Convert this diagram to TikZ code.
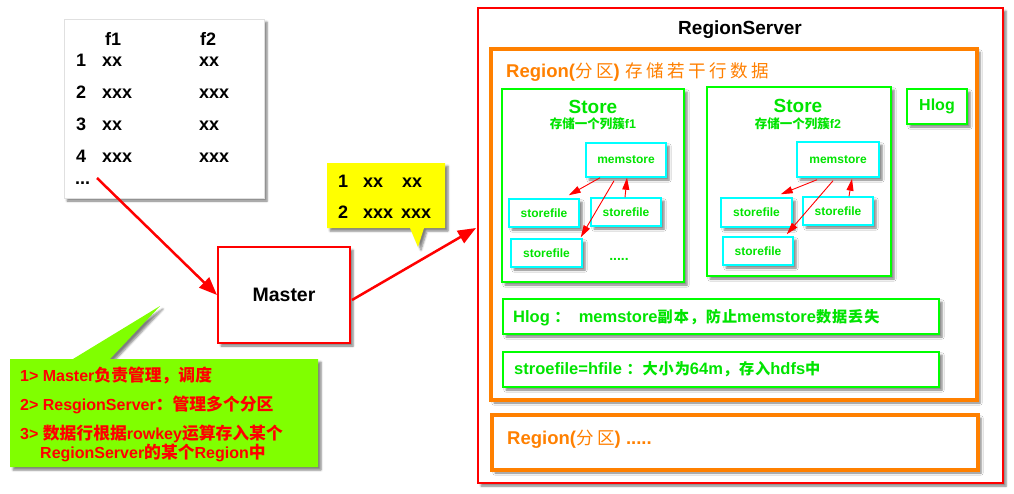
\documentclass[tikz,border=0pt]{standalone}
\usepackage{fontspec}
\setmainfont{Liberation Sans}
\newfontfamily\cjkcall{Noto Sans CJK SC}[Scale=1.05]
\newfontfamily\cjkdesc{Noto Sans CJK SC}[Scale=0.92,LetterSpace=6]
\newfontfamily\cjkwide{Noto Sans CJK SC}[Scale=0.95,LetterSpace=20]
\newfontfamily\cjknarrow{Noto Sans CJK SC}
\usetikzlibrary{arrows.meta,shadows.blur,calc}
\definecolor{rsred}{RGB}{255,0,0}
\definecolor{org}{RGB}{255,128,0}
\definecolor{grn}{RGB}{0,255,0}
\definecolor{gtxt}{RGB}{0,228,0}
\definecolor{cyn}{RGB}{0,255,255}
\definecolor{calloutgreen}{RGB}{128,255,0}
\definecolor{yel}{RGB}{255,255,0}
\newcommand{\zhc}[1]{{\cjkcall #1}}
\newcommand{\zhd}[1]{{\cjkdesc #1}}
\newcommand{\zhm}[1]{{\cjkwide\mdseries #1}}
\newcommand{\zhn}[1]{{\cjknarrow #1}}
\newcommand{\fs}[1]{\fontsize{#1}{#1}\selectfont}
\begin{document}
\begin{tikzpicture}[x=1pt,y=-1pt,font=\bfseries,
  shd/.style={blur shadow={shadow xshift=3pt,shadow yshift=-3pt,shadow blur steps=5,shadow opacity=50}},
  boxn/.style={rectangle,inner sep=0pt,fill=white,shd},
  txt/.style={inner sep=0pt,anchor=base west},
  ctxt/.style={inner sep=0pt,anchor=base},
  bigarrow/.style={draw=rsred,line width=2.5pt,-{Triangle[length=18pt,width=14pt]}},
  smallarrow/.style={draw=rsred,line width=0.9pt,-{Triangle[length=12pt,width=7pt]}},
  storebox/.style={boxn,draw=grn,line width=1.5pt},
  cyanbox/.style={boxn,draw=cyn,line width=1.5pt,text=gtxt,font=\bfseries\fs{12}},
  descbox/.style={boxn,draw=grn,line width=1.5pt},
  orgbox/.style={boxn,draw=org,line width=4pt},
  tabtxt/.style={txt,font=\bfseries\fs{18}},
  calltxt/.style={txt,text=rsred,font=\bfseries\fs{16}},
  desctxt/.style={txt,text=gtxt,font=\bfseries\fs{16.5}},
]
\useasboundingbox (0,0) rectangle (1014,493);

% ---------------- table ----------------
\node[boxn,draw=black!12,line width=0.6pt,minimum width=200pt,minimum height=179pt] (tab) at (164,108.5) {};
\node[tabtxt] (tf1) at (105,45) {f1};
\node[tabtxt] (tf2) at (200,45) {f2};
\node[tabtxt] (tn1) at (76,66.5) {1};
\node[tabtxt] (ta1) at (102,66.5) {xx};
\node[tabtxt] (tb1) at (199,66.5) {xx};
\node[tabtxt] (tn2) at (76,98.5) {2};
\node[tabtxt] (ta2) at (102,98.5) {xxx};
\node[tabtxt] (tb2) at (199,98.5) {xxx};
\node[tabtxt] (tn3) at (76,130.5) {3};
\node[tabtxt] (ta3) at (102,130.5) {xx};
\node[tabtxt] (tb3) at (199,130.5) {xx};
\node[tabtxt] (tn4) at (76,162.5) {4};
\node[tabtxt] (ta4) at (102,162.5) {xxx};
\node[tabtxt] (tb4) at (199,162.5) {xxx};
\node[tabtxt] (tdots) at (75,184) {...};

% ---------------- yellow callout ----------------
\path[fill=yel,shd] (327,163) -- (445,163) -- (445,228) -- (424,228) -- (418,247) -- (410,228) -- (327,228) -- cycle;
\node[tabtxt] (yn1) at (338,187.5) {1};
\node[tabtxt] (ya1) at (363,187.5) {xx};
\node[tabtxt] (yb1) at (402,187.5) {xx};
\node[tabtxt] (yn2) at (338,218.5) {2};
\node[tabtxt] (ya2) at (363,218.5) {xxx};
\node[tabtxt] (yb2) at (401,218.5) {xxx};

% ---------------- green callout ----------------
\path[fill=calloutgreen,shd] (10,359) -- (73,359) -- (160,306) -- (110,359) -- (318,359) -- (318,467) -- (10,467) -- cycle;
\node[calltxt] (g1) at (20,381) {1> Master\zhc{负责管理，调度}};
\node[calltxt] (g2) at (20,410) {2> ResgionServer\zhc{：管理多个分区}};
\node[calltxt] (g3) at (20,439) {3> \zhc{数据行根据}rowkey\zhc{运算存入某个}};
\node[calltxt] (g4) at (40,458) {RegionServer\zhc{的某个}Region\zhc{中}};

% ---------------- Master ----------------
\node[boxn,draw=rsred,line width=2pt,minimum width=132pt,minimum height=96pt,font=\bfseries\fs{19.5}] (master) at (284,295) {Master};

% ---------------- RegionServer ----------------
\node[boxn,draw=rsred,line width=2pt,minimum width=525pt,minimum height=475pt] (rs) at (740.5,245.5) {};
\node[ctxt,font=\bfseries\fs{19}] (rstitle) at (740,34) {RegionServer};

% Region 1
\node[orgbox,minimum width=486pt,minimum height=351pt] (r1) at (734,224.5) {};
\node[txt,text=org,font=\bfseries\fs{18.5}] (r1title) at (506,77) {Region(\zhm{分区}) \zhm{存储若干行数据}};

% Store 1
\node[storebox,minimum width=182pt,minimum height=193pt] (s1) at (593,185.5) {};
\node[ctxt,text=gtxt,font=\bfseries\fs{19}] (s1t) at (593,113) {Store};
\node[ctxt,text=gtxt,font=\bfseries\fs{12.5}] (s1s) at (593,128) {\zhn{存储一个列簇}f1};
\node[cyanbox,minimum width=80pt,minimum height=34pt] (m1) at (626,160) {memstore};
\node[cyanbox,minimum width=70pt,minimum height=28pt] (f11) at (544,213) {storefile};
\node[cyanbox,minimum width=70pt,minimum height=28pt] (f12) at (626,212) {storefile};
\node[cyanbox,minimum width=71pt,minimum height=28pt] (f13) at (546.5,253) {storefile};
\node[ctxt,text=gtxt,font=\bfseries\fs{14}] (s1dots) at (619,260) {.....};
\draw[smallarrow] ($(m1.south)+(-26,0)$) -- ($(f11.north east)+(-11,-3)$);
\draw[smallarrow] ($(m1.south)+(-12,3)$) -- ($(f13.north east)+(-2,-1)$);
\draw[smallarrow] ($(f12.north)+(-1,0)$) -- ($(m1.south)+(1,0)$);

% Store 2
\node[storebox,minimum width=184pt,minimum height=189pt] (s2) at (799,181.5) {};
\node[ctxt,text=gtxt,font=\bfseries\fs{19}] (s2t) at (798,112) {Store};
\node[ctxt,text=gtxt,font=\bfseries\fs{12.5}] (s2s) at (798,128) {\zhn{存储一个列簇}f2};
\node[cyanbox,minimum width=82pt,minimum height=35pt] (m2) at (838,159.5) {memstore};
\node[cyanbox,minimum width=71pt,minimum height=29pt] (f21) at (756.5,212.5) {storefile};
\node[cyanbox,minimum width=70pt,minimum height=28pt] (f22) at (838,211) {storefile};
\node[cyanbox,minimum width=70pt,minimum height=28pt] (f23) at (758,251) {storefile};
\draw[smallarrow] ($(m2.south)+(-21,2)$) -- ($(f21.north east)+(-12,-3)$);
\draw[smallarrow] ($(m2.south)+(-5,3)$) -- ($(f23.north east)+(-7,-2)$);
\draw[smallarrow] ($(f22.north)+(11,0)$) -- ($(m2.south)+(14,1)$);

% Hlog
\node[storebox,minimum width=60pt,minimum height=35pt,text=gtxt,font=\bfseries\fs{16}] (hlog) at (937,106.5) {Hlog};

% description boxes
\node[descbox,minimum width=436pt,minimum height=35pt] (d1) at (721,316.5) {};
\node[desctxt] (d1t) at (513,322) {Hlog \zhd{：}\ \ memstore\zhd{副本，防止}memstore\zhd{数据丢失}};
\node[descbox,minimum width=436pt,minimum height=35pt] (d2) at (721,369.5) {};
\node[desctxt] (d2t) at (514,374.5) {stroefile=hfile \zhd{：大小为}64m\zhd{，存入}hdfs\zhd{中}};

% Region 2
\node[orgbox,minimum width=486pt,minimum height=55pt] (r2) at (735,442.5) {};
\node[txt,text=org,font=\bfseries\fs{18.5}] (r2t) at (507,444) {Region(\zhm{分区}) .....};

% ---------------- big arrows ----------------
\coordinate (tabout) at (97,178);
\coordinate (rsin) at (476,228);
\draw[bigarrow] (tabout) -- (master.west);
\draw[bigarrow] ($(master.east)+(1,5)$) -- (rsin);
\end{tikzpicture}
\end{document}
